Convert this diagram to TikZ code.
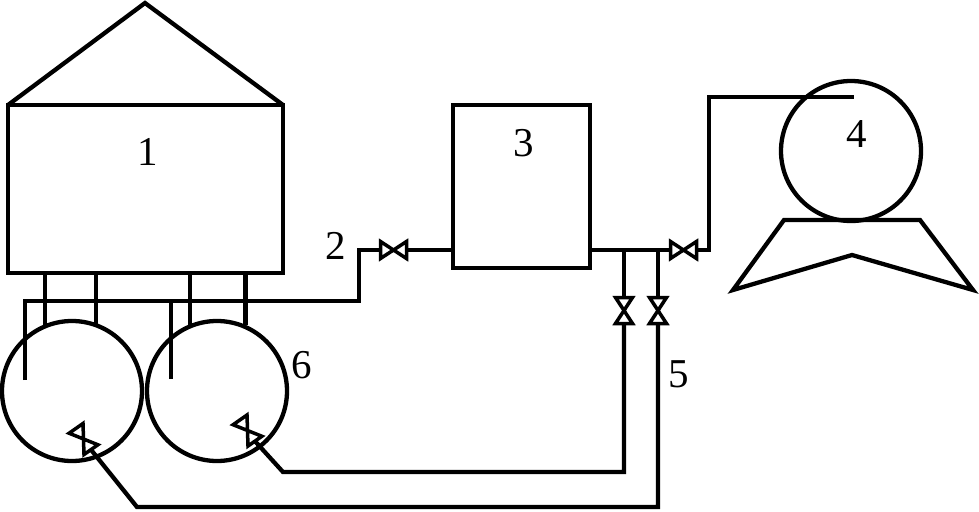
\documentclass[tikz,border=0pt]{standalone}
\usepackage{fontspec}
\setmainfont{Liberation Serif}
\usetikzlibrary{positioning}

\begin{document}
\begin{tikzpicture}[
  x=1pt, y=-1pt,
  node distance=5pt,
  line width=4.3pt,
  box/.style={draw, rectangle, inner sep=0pt, outer sep=0pt},
  tank/.style={draw, circle, inner sep=0pt, outer sep=0pt, minimum size=140pt},
  valve/.style={rectangle, inner sep=0pt, outer sep=0pt, minimum width=26pt, minimum height=17pt},
  label/.style={inner sep=0pt, font=\fontsize{41}{48}\selectfont}
]
\useasboundingbox (0,0) rectangle (979,511);

\node (store) [box, minimum width=275pt, minimum height=168pt] at (145.5,189) {};
\node (filter) [box, minimum width=137pt, minimum height=163pt] at (521.5,186.5) {};
\node (pump) [tank] at (851,151) {};
\node (tanka) [tank] at (72,391) {};
\node (tankb) [tank, right=5pt of tanka] {};

\node (va) [valve] at (393.5,250) {};
\node (vb) [valve] at (683.5,250) {};
\node (vc) [valve, rotate=-90] at (624,310.5) {};
\node (vd) [valve, rotate=-90] at (658,310.5) {};
\node (ve) [valve, rotate=-55] at (83.5,439) {};
\node (vf) [valve, rotate=-55] at (247.5,430.5) {};

\node (n1) [label] at (147.5,152) {1};
\node (n2) [label] at (335.5,246) {2};
\node (n3) [label] at (523.5,143) {3};
\node (n4) [label] at (856.5,134) {4};
\node (n5) [label] at (678.5,374) {5};
\node (n6) [label] at (301.5,365.5) {6};

\coordinate (apex) at (145,3);
\coordinate (ventb) at (25,380);
\coordinate (ventf) at (171,379);
\coordinate (bus) at (25,301);
\coordinate (riser) at (359,301);
\coordinate (tapa) at (624,250);
\coordinate (tapb) at (658,250);
\coordinate (ela) at (709,250);
\coordinate (elb) at (709,97);
\coordinate (inlet) at (854,97);
\coordinate (loa) at (624,472);
\coordinate (lob) at (283,472);
\coordinate (loc) at (658,507);
\coordinate (lod) at (137,507);
\coordinate (lega) at (45,325);
\coordinate (legb) at (96,325);
\coordinate (legc) at (190,325);
\coordinate (legd) at (245.5,325);

% roof and pump base
\draw (store.north west) -- (apex) -- (store.north east);
\draw (784,220) -- (920,220) -- (973,290) -- (852,255) -- (733,290) -- cycle;

% valves
\foreach \v in {va,vb,vc,vd,ve,vf}
  \draw[line width=3.5pt] (\v.north west) -- (\v.south east) -- (\v.north east) -- (\v.south west) -- cycle;

% legs
\foreach \l in {lega,legb,legc,legd}
  \draw (store.south -| \l) -- (\l);

% pipes
\draw (ventb) -- (bus) -- (riser) -- (riser |- va) -- (va.west);
\draw (ventf) -- (ventf |- bus);
\draw (va.east) -- (filter.west |- va);
\draw (filter.east |- vb) -- (vb.west);
\draw (vb.east) -- (ela) -- (elb) -- (inlet);
\draw (tapa) -- (vc.west);
\draw (tapb) -- (vd.west);
\draw (vc.east) -- (loa) -- (lob) -- (vf.east);
\draw (vd.east) -- (loc) -- (lod) -- (ve.east);
\end{tikzpicture}
\end{document}
